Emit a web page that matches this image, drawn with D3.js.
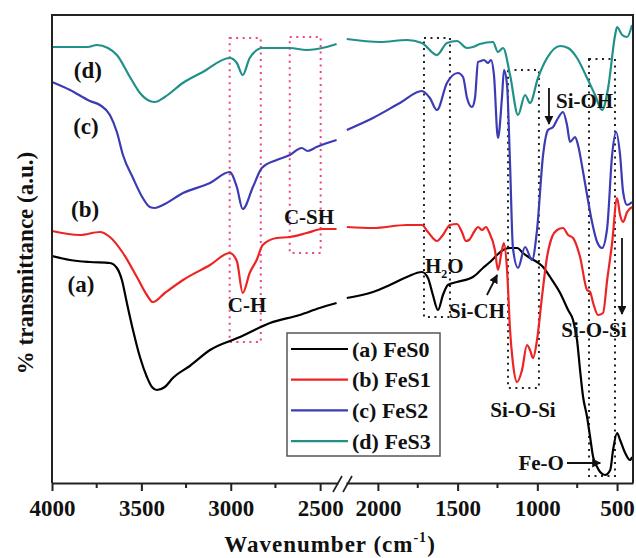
<!DOCTYPE html>
<html>
<head>
<meta charset="utf-8">
<script src="https://cdn.jsdelivr.net/npm/d3@7"></script>
<style>
body { margin: 0; background: #fff; }
text { font-family: "Liberation Serif", "Times New Roman", serif; font-weight: bold; fill: #111; }
</style>
</head>
<body>
<svg id="chart" width="636" height="558"></svg>
<script>
// FTIR spectra, [wavenumber (cm-1), transmittance (a.u.)]
var feS0 = [[4000,227],[3899,223],[3788,221],[3676,220],[3637,215],[3609,203],[3581,180],[3547,153],[3508,126],[3469,106],[3441,96],[3413,93],[3369,96],[3324,105],[3229,117],[3116,133],[2948,146],[2780,160],[2615,168],[2503,175],[2408,180],
  [2195,185],[2031,191],[1925,198],[1818,206],[1724,211],[1686,205],[1655,188],[1623,173],[1592,188],[1561,198],[1504,201],[1404,206],[1341,215],[1297,221],[1253,228],[1215,233],[1171,235],[1127,235],[1090,230],[1046,225],[1002,221],[964,216],[920,206],[857,190],[807,173],[776,163],[751,143],[732,113],[713,86],[688,66],[669,46],[650,26],[625,16],[606,11],[575,8],[543,13],[525,33],[500,50],[481,43],[449,30],[418,23],[406,26]];
var feS1 = [[4000,252],[3844,248],[3732,251],[3676,246],[3603,230],[3525,206],[3469,188],[3436,181],[3369,190],[3267,203],[3116,218],[3006,230],[2966,222],[2933,190],[2894,210],[2855,223],[2821,238],[2743,245],[2670,246],[2575,250],[2486,254],[2408,254],
  [2195,256],[2031,255],[1818,258],[1724,258],[1686,251],[1630,242],[1592,248],[1548,258],[1504,259],[1473,251],[1448,242],[1429,243],[1397,251],[1372,256],[1347,253],[1322,256],[1303,251],[1266,233],[1247,213],[1222,233],[1209,240],[1190,213],[1171,153],[1153,120],[1127,101],[1096,113],[1065,138],[1046,133],[1027,125],[1002,143],[971,186],[939,226],[908,246],[876,253],[839,255],[807,248],[776,245],[732,226],[688,193],[669,191],[650,180],[619,168],[588,170],[562,203],[531,240],[500,285],[481,268],[462,261],[437,271],[406,276]];
var feS2 = [[4000,401],[3899,393],[3788,382],[3732,378],[3676,368],[3637,351],[3603,328],[3547,305],[3492,285],[3453,276],[3425,275],[3380,278],[3267,290],[3116,300],[3006,311],[2966,296],[2933,274],[2876,296],[2826,315],[2743,323],[2670,328],[2603,335],[2570,332],[2520,336],[2408,343],
  [2195,353],[2031,365],[1862,380],[1724,392],[1674,385],[1630,373],[1567,400],[1498,410],[1466,406],[1441,385],[1410,376],[1391,385],[1372,421],[1353,422],[1335,423],[1309,420],[1291,423],[1272,408],[1247,345],[1222,385],[1209,413],[1190,398],[1171,318],[1153,235],[1121,215],[1077,236],[1033,223],[1002,253],[964,328],[933,353],[901,356],[870,365],[839,371],[814,358],[795,341],[763,346],[745,338],[713,311],[688,288],[657,261],[625,241],[594,235],[562,255],[531,328],[506,351],[481,328],[462,291],[437,278],[406,281]];
var feS3 = [[4000,436],[3800,436],[3749,438],[3687,435],[3637,428],[3564,406],[3508,390],[3453,382],[3425,381],[3369,386],[3268,400],[3156,411],[3006,425],[2966,420],[2933,408],[2894,425],[2821,435],[2670,435],[2575,433],[2464,436],[2408,439],
  [2195,444],[1987,441],[1818,443],[1724,440],[1630,428],[1567,440],[1504,442],[1441,435],[1404,436],[1360,439],[1278,441],[1247,431],[1215,435],[1171,408],[1121,368],[1077,388],[1046,380],[996,405],[939,425],[857,437],[807,435],[751,425],[688,405],[638,388],[594,373],[556,395],[512,448],[500,456],[468,448],[437,446],[406,458]];

var seriesNames = ["(a) FeS0", "(b) FeS1", "(c) FeS2", "(d) FeS3"];
var seriesData = [feS0, feS1, feS2, feS3];
var seriesColors = ["#000000", "#ee2424", "#3b3bb3", "#1f9188"];

var leftTicks = [4000, 3500, 3000, 2500];
var leftMinor = [3750, 3250, 2750];
var rightTicks = [2000, 1500, 1000, 500];
var rightMinor = [1750, 1250, 750];

var plot = { left: 52, right: 633, top: 15, bottom: 483 };
var breakL = 338, breakR = 346;

var xL = d3.scaleLinear().domain([4000, 2400]).range([plot.left, breakL]);
var xR = d3.scaleLinear().domain([2200, 400]).range([breakR, plot.right]);
var y = d3.scaleLinear().domain([0, 468]).range([plot.bottom, plot.top]);
function xw(w) { return w >= 2300 ? xL(w) : xR(w); }

var svg = d3.select("#chart");
var pink = "#e8458a";

svg.append("defs").append("marker")
    .attr("id", "arrow")
    .attr("viewBox", "0 0 10 10")
    .attr("refX", 9).attr("refY", 5)
    .attr("markerWidth", 5).attr("markerHeight", 5)
    .attr("orient", "auto")
    .append("path").attr("d", "M0,0L10,5L0,10z").attr("fill", "#111");

// dotted boxes
var boxes = [
    { w0: 3006, w1: 2832, v0: 445, v1: 141, c: pink },
    { w0: 2670, w1: 2497, v0: 446, v1: 230, c: pink },
    { w0: 1711, w1: 1548, v0: 445, v1: 166, c: "#222" },
    { w0: 1184, w1: 990, v0: 413, v1: 95, c: "#222" },
    { w0: 676, w1: 513, v0: 424, v1: 7, c: "#222" }
];
svg.append("g").selectAll("rect")
    .data(boxes)
    .enter().append("rect")
    .attr("x", function (d) { return xw(d.w0); })
    .attr("y", function (d) { return y(d.v0); })
    .attr("width", function (d) { return xw(d.w1) - xw(d.w0); })
    .attr("height", function (d) { return y(d.v1) - y(d.v0); })
    .attr("fill", "none")
    .attr("stroke", function (d) { return d.c; })
    .attr("stroke-width", 2)
    .attr("stroke-dasharray", "2,4.5");

// spectra, drawn in two pieces either side of the axis break
var line = d3.line()
    .x(function (d) { return xw(d[0]); })
    .y(function (d) { return y(d[1]); })
    .curve(d3.curveMonotoneX);
var curves = svg.append("g");
seriesData.forEach(function (data, i) {
    var parts = [data.filter(function (d) { return d[0] >= 2400; }),
                 data.filter(function (d) { return d[0] <= 2200; })];
    parts.forEach(function (seg) {
        curves.append("path")
            .datum(seg)
            .attr("d", line)
            .attr("fill", "none")
            .attr("stroke", seriesColors[i])
            .attr("stroke-width", 2.2)
            .attr("stroke-linejoin", "round");
    });
});

// frame
var frame = svg.append("g").attr("stroke", "#222").attr("stroke-width", 2).attr("fill", "none");
frame.append("path").attr("d", "M" + plot.left + "," + plot.bottom + "V" + plot.top + "H" + plot.right + "V" + plot.bottom);

// bottom axes
function drawAxis(scale, major, minor) {
    var g = svg.append("g").attr("transform", "translate(0," + plot.bottom + ")");
    g.call(d3.axisBottom(scale).tickValues(major).tickSize(8).tickSizeOuter(0).tickPadding(9).tickFormat(d3.format("d")));
    g.select(".domain").attr("stroke", "#222").attr("stroke-width", 2);
    g.selectAll(".tick line").attr("stroke", "#222").attr("stroke-width", 2);
    g.selectAll(".tick text").attr("font-size", 23).attr("font-family", null);
    g.selectAll(".minor").data(minor).enter().append("line")
        .attr("x1", scale).attr("x2", scale)
        .attr("y1", 0).attr("y2", 5)
        .attr("stroke", "#222").attr("stroke-width", 2);
}
drawAxis(xL, leftTicks, leftMinor);
drawAxis(xR, rightTicks, rightMinor);

// axis break marks
svg.append("g").attr("stroke", "#222").attr("stroke-width", 1.6)
    .selectAll("line").data([333, 343]).enter().append("line")
    .attr("x1", function (d) { return d; }).attr("y1", plot.bottom + 9)
    .attr("x2", function (d) { return d + 9; }).attr("y2", plot.bottom - 7);

// axis titles
var xt = svg.append("text")
    .attr("x", 330).attr("y", 552)
    .attr("text-anchor", "middle")
    .attr("font-size", 23)
    .attr("letter-spacing", 1)
    .text("Wavenumber (cm");
xt.append("tspan").attr("font-size", 14).attr("dy", -10).text("-1");
xt.append("tspan").attr("dy", 10).text(")");

svg.append("text")
    .attr("transform", "translate(33,263) rotate(-90)")
    .attr("text-anchor", "middle")
    .attr("font-size", 23)
    .text("% transmittance (a.u.)");

// labels and peak assignments
var notes = [
    { t: "(d)", w: 3799, v: 405, a: "middle", s: 23 },
    { t: "(c)", w: 3810, v: 349, a: "middle", s: 23 },
    { t: "(b)", w: 3815, v: 266, a: "middle", s: 23 },
    { t: "(a)", w: 3838, v: 191, a: "middle", s: 23 },
    { t: "C-H", w: 2909, v: 171, a: "middle", s: 21 },
    { t: "C-SH", w: 2562, v: 259, a: "middle", s: 21 },
    { t: "Si-CH", w: 1554, v: 165, a: "start", s: 21 },
    { t: "Si-O-Si", w: 1090, v: 66, a: "middle", s: 21 },
    { t: "Si-O-Si", w: 645, v: 146, a: "middle", s: 21 },
    { t: "Fe-O", w: 833, v: 13, a: "end", s: 21 },
    { t: "Si-OH", w: 883, v: 375, a: "start", s: 21 }
];
svg.append("g").selectAll("text")
    .data(notes)
    .enter().append("text")
    .attr("x", function (d) { return xw(d.w); })
    .attr("y", function (d) { return y(d.v); })
    .attr("text-anchor", function (d) { return d.a; })
    .attr("font-size", function (d) { return d.s; })
    .text(function (d) { return d.t; });

var h2o = svg.append("text")
    .attr("x", xw(1705)).attr("y", y(210))
    .attr("font-size", 21)
    .text("H");
h2o.append("tspan").attr("font-size", 12).attr("dy", 5).text("2");
h2o.append("tspan").attr("dy", -5).text("O");

var arrows = [
    { w0: 927, v0: 395, w1: 927, v1: 359 },
    { w0: 469, v0: 245, w1: 469, v1: 169 },
    { w0: 814, v0: 20, w1: 605, v1: 20 },
    { w0: 1316, v0: 188, w1: 1252, v1: 208 }
];
svg.append("g").selectAll("line")
    .data(arrows)
    .enter().append("line")
    .attr("x1", function (d) { return xw(d.w0); })
    .attr("y1", function (d) { return y(d.v0); })
    .attr("x2", function (d) { return xw(d.w1); })
    .attr("y2", function (d) { return y(d.v1); })
    .attr("stroke", "#111")
    .attr("stroke-width", 1.8)
    .attr("marker-end", "url(#arrow)");

// legend
var legend = svg.append("g").attr("transform", "translate(287,333)");
legend.append("rect")
    .attr("width", 153).attr("height", 123)
    .attr("fill", "#fff")
    .attr("stroke", "#555").attr("stroke-width", 1.5);
var rows = legend.selectAll("g.row")
    .data(seriesNames)
    .enter().append("g")
    .attr("transform", function (d, i) { return "translate(0," + (16 + i * 30.7) + ")"; });
rows.append("line")
    .attr("x1", 4).attr("x2", 61)
    .attr("stroke", function (d, i) { return seriesColors[i]; })
    .attr("stroke-width", 2.2);
rows.append("text")
    .attr("x", 65).attr("dy", "0.35em")
    .attr("font-size", 22)
    .text(function (d) { return d; });
</script>
</body>
</html>
